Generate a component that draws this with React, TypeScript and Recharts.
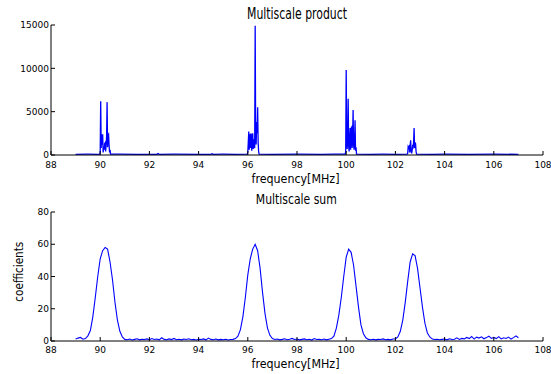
import { LineChart, Line, XAxis, YAxis } from "recharts";

const xTicks = [88, 90, 92, 94, 96, 98, 100, 102, 104, 106, 108];
const productTicks = [0, 5000, 10000, 15000];
const sumTicks = [0, 20, 40, 60, 80];

// multiscale product: flat floor with spike clusters near each station
const productFreq = [
  89.0, 89.5, 89.9,
  89.98, 90.0, 90.02, 90.04, 90.06, 90.08, 90.1, 90.12, 90.14, 90.16, 90.18, 90.2,
  90.22, 90.24, 90.26, 90.28, 90.3, 90.32, 90.34, 90.36, 90.38, 90.4, 90.42,
  90.8, 91.5, 92.3, 92.35, 92.4, 93.0, 94.0, 94.5, 94.55, 94.6, 95.0, 95.5,
  95.98, 96.0, 96.02, 96.04, 96.06, 96.08, 96.1, 96.12, 96.14, 96.16, 96.18, 96.2,
  96.22, 96.24, 96.26, 96.28, 96.3, 96.32, 96.34, 96.36, 96.38, 96.4, 96.42, 96.44, 96.46,
  97.0, 98.0, 99.0, 99.5,
  99.96, 99.98, 100.0, 100.02, 100.04, 100.06, 100.08, 100.1, 100.12, 100.14, 100.16,
  100.18, 100.2, 100.22, 100.24, 100.26, 100.28, 100.3, 100.32, 100.34, 100.36, 100.38,
  100.4, 100.42,
  101.0, 101.5, 102.0,
  102.48, 102.5, 102.52, 102.54, 102.56, 102.58, 102.6, 102.62, 102.64, 102.66, 102.68,
  102.7, 102.72, 102.74, 102.76, 102.78, 102.8, 102.82, 102.84, 102.86,
  103.5, 104.0, 105.0, 106.0, 107.0,
];
const productValue = [
  80, 90, 80,
  100, 300, 6200, 800, 2400, 1200, 2400, 300, 900, 600, 1300, 1400,
  400, 1100, 2100, 6100, 900, 2300, 2400, 1200, 300, 600, 100,
  90, 80, 80, 160, 80, 90, 80, 80, 150, 80, 90, 80,
  100, 300, 1500, 2700, 600, 2400, 800, 2400, 2400, 500, 1300, 2500,
  700, 1800, 1000, 800, 14900, 2000, 1200, 3800, 2500, 5500, 1500, 400, 100,
  80, 90, 80, 90,
  100, 400, 9800, 1500, 700, 2000, 6500, 1000, 400, 1800, 3100,
  600, 3100, 3200, 800, 1600, 5200, 1200, 600, 1500, 4000, 500,
  900, 100,
  80, 90, 80,
  100, 200, 1000, 900, 1000, 300, 1100, 1700, 400, 200, 500,
  1000, 900, 1500, 3100, 800, 1400, 1300, 400, 100,
  80, 90, 80, 90, 80,
];

// multiscale sum, sampled every 0.1 MHz from 89.0 to 107.0
const sumStart = 89.0;
const sumStep = 0.1;
const sumValue = [
  1.2, 1.8, 2.2, 1.1, 1.5, 3.2, 6.5, 15, 27, 40,
  51, 56, 58, 57, 49, 38, 24, 13, 6, 2.5,
  1.0, 0.8, 1.2, 0.6, 1.0, 1.4, 0.7, 1.1, 0.9, 1.3,
  0.8, 1.5, 0.9, 1.2, 0.7, 2.0, 1.0, 0.8, 1.3, 0.9,
  1.6, 0.8, 1.1, 0.7, 1.2, 0.9, 1.4, 0.8, 1.0, 0.6,
  1.1, 0.9, 1.3, 0.7, 1.8, 1.0, 0.8, 1.2, 0.7, 1.0,
  0.8, 1.1, 0.6, 0.9, 1.0, 1.5, 3, 7, 15, 27,
  41, 51, 57, 60, 56, 45, 30, 17, 8, 3.5,
  1.5, 0.9, 1.2, 0.7, 1.0, 1.4, 0.8, 1.1, 1.6, 0.9,
  1.2, 0.7, 1.0, 1.3, 0.8, 1.1, 0.6, 1.5, 0.9, 1.0,
  0.8, 1.2, 0.7, 1.1, 1.5, 3, 8, 16, 27, 40,
  52, 57, 55, 47, 34, 21, 10, 4.5, 2, 1,
  0.8, 1.1, 0.7, 1.0, 0.9, 1.3, 0.8, 1.0, 0.7, 1.2,
  1.3, 2.5, 6, 13, 24, 37, 49, 54, 53, 45,
  33, 21, 11, 5, 2.5, 1.2, 0.9, 1.1, 0.8, 1.0,
  1.2, 0.7, 1.4, 0.9, 1.1, 2.0, 1.0, 1.6, 1.3, 2.2,
  1.5, 2.8, 1.2, 2.4, 1.8, 2.6, 1.4, 2.1, 3.0, 1.6,
  2.2, 1.5, 2.7, 1.3, 2.0, 1.6, 2.4, 1.2, 2.1, 3.2,
  2.0,
];

const productData = productFreq.map((f, i) => ({ f, v: productValue[i] }));
const sumData = sumValue.map((v, i) => ({ f: +(sumStart + i * sumStep).toFixed(1), v }));

const tickFont = { fill: "#000", fontSize: 9, fontFamily: "DejaVu Sans" };
const labelFont = { fill: "#000", fontFamily: "DejaVu Sans Condensed, DejaVu Sans" };
const black = { stroke: "#000", strokeWidth: 1 };

function Panel({ data, yMax, yTicks, xHeight, xMargin, lineWidth }: any) {
  return (
    <LineChart width={551} height={187} data={data} margin={{ top: 25, right: 8, bottom: 0, left: 0 }}>
      <XAxis
        dataKey="f"
        type="number"
        domain={[88, 108]}
        ticks={xTicks}
        interval={0}
        allowDataOverflow
        height={xHeight}
        tickSize={-4}
        tickMargin={xMargin}
        axisLine={black}
        tickLine={black}
        tick={tickFont}
      />
      <XAxis
        xAxisId="top"
        orientation="top"
        type="number"
        domain={[88, 108]}
        ticks={xTicks}
        interval={0}
        allowDataOverflow
        height={0}
        tickSize={-4}
        axisLine={black}
        tickLine={black}
        tickFormatter={() => ""}
      />
      <YAxis
        type="number"
        domain={[0, yMax]}
        ticks={yTicks}
        interval={0}
        allowDataOverflow
        width={51}
        tickSize={-4}
        tickMargin={6}
        axisLine={black}
        tickLine={black}
        tick={tickFont}
      />
      <YAxis
        yAxisId="right"
        orientation="right"
        type="number"
        domain={[0, yMax]}
        ticks={yTicks}
        interval={0}
        allowDataOverflow
        width={0}
        tickSize={-4}
        axisLine={black}
        tickLine={black}
        tickFormatter={() => ""}
      />
      <Line
        type="linear"
        dataKey="v"
        stroke="#0000ff"
        strokeWidth={lineWidth}
        dot={false}
        isAnimationActive={false}
      />
    </LineChart>
  );
}

export default function App() {
  return (
    <div style={{ position: "absolute", left: 0, top: 0, width: 551, height: 374, background: "#fff" }}>
      <div style={{ position: "absolute", left: 0, top: 0 }}>
        <Panel data={productData} yMax={15000} yTicks={productTicks} xHeight={32} xMargin={10.5} lineWidth={1.3} />
      </div>
      <div style={{ position: "absolute", left: 0, top: 187 }}>
        <Panel data={sumData} yMax={80} yTicks={sumTicks} xHeight={33} xMargin={9.5} lineWidth={1.1} />
      </div>
      <svg width={551} height={374} style={{ position: "absolute", left: 0, top: 0, pointerEvents: "none" }}>
        <text x={297} y={18.5} fontSize={15} textAnchor="middle" textLength={100} lengthAdjust="spacingAndGlyphs" {...labelFont}>
          Multiscale product
        </text>
        <text x={295.5} y={182.5} fontSize={13} textAnchor="middle" textLength={88} lengthAdjust="spacingAndGlyphs" {...labelFont}>
          frequency[MHz]
        </text>
        <text x={296.3} y={203.5} fontSize={14} textAnchor="middle" textLength={81} lengthAdjust="spacingAndGlyphs" {...labelFont}>
          Multiscale sum
        </text>
        <text x={295.5} y={368} fontSize={13} textAnchor="middle" textLength={88} lengthAdjust="spacingAndGlyphs" {...labelFont}>
          frequency[MHz]
        </text>
        <text
          transform="translate(23,271.7) rotate(-90)"
          fontSize={13}
          textAnchor="middle"
          textLength={60}
          lengthAdjust="spacingAndGlyphs"
          {...labelFont}
        >
          coefficients
        </text>
      </svg>
    </div>
  );
}
